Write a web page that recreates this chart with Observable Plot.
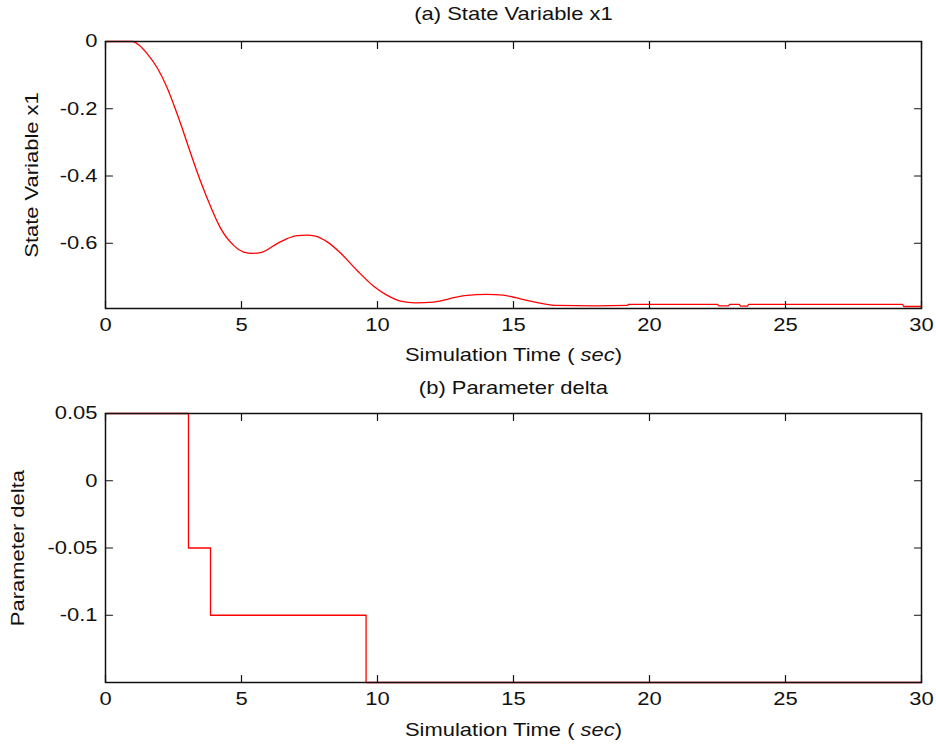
<!DOCTYPE html>
<html>
<head>
<meta charset="utf-8">
<script src="https://cdn.jsdelivr.net/npm/d3@7"></script>
<script src="https://cdn.jsdelivr.net/npm/@observablehq/plot@0.6"></script>
<style>
  html, body { margin: 0; padding: 0; background: #fff; }
  #chart svg { display: block; }
</style>
</head>
<body>
<div id="chart"></div>
<script>
// ---- Data ----
const time = [0, 1.0, 1.25, 1.53, 1.9, 2.27, 2.51, 2.82, 3.12, 3.49, 3.86, 4.23, 4.72, 5.08, 5.4, 5.7, 6.31, 6.68, 7.05, 7.4, 7.72, 8.15, 8.64, 9.25, 9.86, 10.36, 10.85, 11.4, 12.06, 12.4, 12.8, 13.3, 14.0, 14.63, 15.07, 15.8, 16.6, 18.0, 19.18, 19.23, 20.5, 22.5, 22.55, 22.9, 22.95, 23.3, 23.35, 23.6, 23.65, 26.0, 29.3, 29.35, 30];
const x1   = [0, 0, -0.012, -0.036, -0.078, -0.138, -0.188, -0.258, -0.33, -0.415, -0.49, -0.555, -0.607, -0.626, -0.630, -0.628, -0.601, -0.586, -0.577, -0.576, -0.579, -0.596, -0.629, -0.681, -0.728, -0.755, -0.772, -0.777, -0.775, -0.770, -0.762, -0.755, -0.752, -0.754, -0.762, -0.775, -0.785, -0.786, -0.785, -0.782, -0.782, -0.782, -0.786, -0.786, -0.782, -0.782, -0.787, -0.787, -0.782, -0.782, -0.782, -0.788, -0.788];

const deltaTime  = [0, 3.05, 3.86, 9.58, 30];
const deltaValue = [0.05, -0.05, -0.1, -0.15, -0.15];

const xTicks = [0, 5, 10, 15, 20, 25, 30];
const yTicksA = [0, -0.2, -0.4, -0.6];
const yTicksB = [0.05, 0, -0.05, -0.1];

const titleA = "(a) State Variable x1";
const titleB = "(b) Parameter delta";
const yLabelA = "State Variable x1";
const yLabelB = "Parameter delta";
const xLabel = "Simulation Time ( sec)";

// ---- Drawing ----
const seriesA = time.map((t, i) => ({t, v: x1[i]}));
const seriesB = deltaTime.map((t, i) => ({t, v: deltaValue[i]}));

const tickShape = { draw(ctx, l) { ctx.moveTo(0, 0); ctx.lineTo(0, -l); } };
const fmt = d => String(d);
const FONT = "'Liberation Sans', Arial, sans-serif";
const FS = 18;
const WIDEN = 1.22;

function panel({data, curve, yDomain, yTicks, title, yLabel, marginTop, marginBottom, titleDy, xLabelDy, yLabelDx, height}) {
  const [y0, y1] = yDomain;
  const tickOpts = {length: 7, anchor: "start", shape: tickShape, stroke: "#111", strokeWidth: 1.2};
  return Plot.plot({
    width: 936, height,
    marginLeft: 105, marginRight: 15, marginTop, marginBottom,
    x: {domain: [0, 30], axis: null},
    y: {domain: yDomain, axis: null},
    style: {fontFamily: FONT, fontSize: FS + "px", color: "#111", background: "#fff", overflow: "visible"},
    marks: [
      Plot.line(data, {x: "t", y: "v", stroke: "#ff0000", strokeWidth: 1.3, curve}),
      Plot.frame({stroke: "#111", strokeWidth: 1.5}),
      Plot.vector(xTicks, {x: d => d, y: () => y0, rotate: 0, ...tickOpts}),
      Plot.vector(xTicks, {x: d => d, y: () => y1, rotate: 180, ...tickOpts}),
      Plot.vector(yTicks, {y: d => d, x: () => 0, rotate: 90, ...tickOpts}),
      Plot.vector(yTicks, {y: d => d, x: () => 30, rotate: -90, ...tickOpts}),
      Plot.axisX({ticks: xTicks, tickFormat: fmt, tickSize: 0, tickPadding: 10, label: null, fontSize: FS, fill: "#111"}),
      Plot.axisY({ticks: yTicks, tickFormat: fmt, tickSize: 0, tickPadding: 8, label: null, fontSize: FS, fill: "#111"}),
      Plot.text([title], {frameAnchor: "top", lineAnchor: "middle", textAnchor: "middle", dy: titleDy, fontSize: FS, fill: "#111"}),
      Plot.text([xLabel], {frameAnchor: "bottom", lineAnchor: "middle", textAnchor: "middle", dy: xLabelDy, fontSize: FS, fill: "#111"}),
      Plot.text([yLabel], {frameAnchor: "left", lineAnchor: "middle", textAnchor: "middle", rotate: -90, dx: yLabelDx, fontSize: FS, fill: "#111"})
    ]
  });
}

const chartA = panel({
  data: seriesA, curve: "monotone-x", yDomain: [-0.794, 0], yTicks: yTicksA,
  title: titleA, yLabel: yLabelA, height: 373, marginTop: 41, marginBottom: 65,
  titleDy: -27, xLabelDy: 47, yLabelDx: -73
});
const chartB = panel({
  data: seriesB, curve: "step-after", yDomain: [-0.15, 0.05], yTicks: yTicksB,
  title: titleB, yLabel: yLabelB, height: 373, marginTop: 40, marginBottom: 64,
  titleDy: -25, xLabelDy: 48, yLabelDx: -87
});

const root = document.getElementById("chart");
root.append(chartA, chartB);

const NS = "http://www.w3.org/2000/svg";
for (const svg of [chartA, chartB]) {
  for (const t of Array.from(svg.querySelectorAll("text"))) {
    // italicise "sec" in the x labels
    if (t.textContent === xLabel) {
      t.textContent = "";
      const a = document.createElementNS(NS, "tspan");
      a.textContent = "Simulation Time ( ";
      const b = document.createElementNS(NS, "tspan");
      b.textContent = "sec";
      b.setAttribute("font-style", "italic");
      const c = document.createElementNS(NS, "tspan");
      c.textContent = ")";
      t.append(a, b, c);
    }
    // widen glyphs (along the reading direction) to match the reference's broad sans face
    const g = document.createElementNS(NS, "g");
    t.parentNode.insertBefore(g, t);
    g.appendChild(t);
    const bb = g.getBBox();
    const anchor = getComputedStyle(t).textAnchor;
    const vertical = bb.height > bb.width * 1.5 && t.textContent.length > 3;
    let ax, ay;
    if (vertical) {
      ax = bb.x + bb.width / 2; ay = bb.y + bb.height / 2;
      g.setAttribute("transform", `translate(${ax},${ay}) scale(1,${WIDEN}) translate(${-ax},${-ay})`);
    } else {
      ax = anchor === "end" ? bb.x + bb.width : anchor === "start" ? bb.x : bb.x + bb.width / 2;
      ay = bb.y + bb.height / 2;
      g.setAttribute("transform", `translate(${ax},${ay}) scale(${WIDEN},1) translate(${-ax},${-ay})`);
    }
  }
}
</script>
</body>
</html>
